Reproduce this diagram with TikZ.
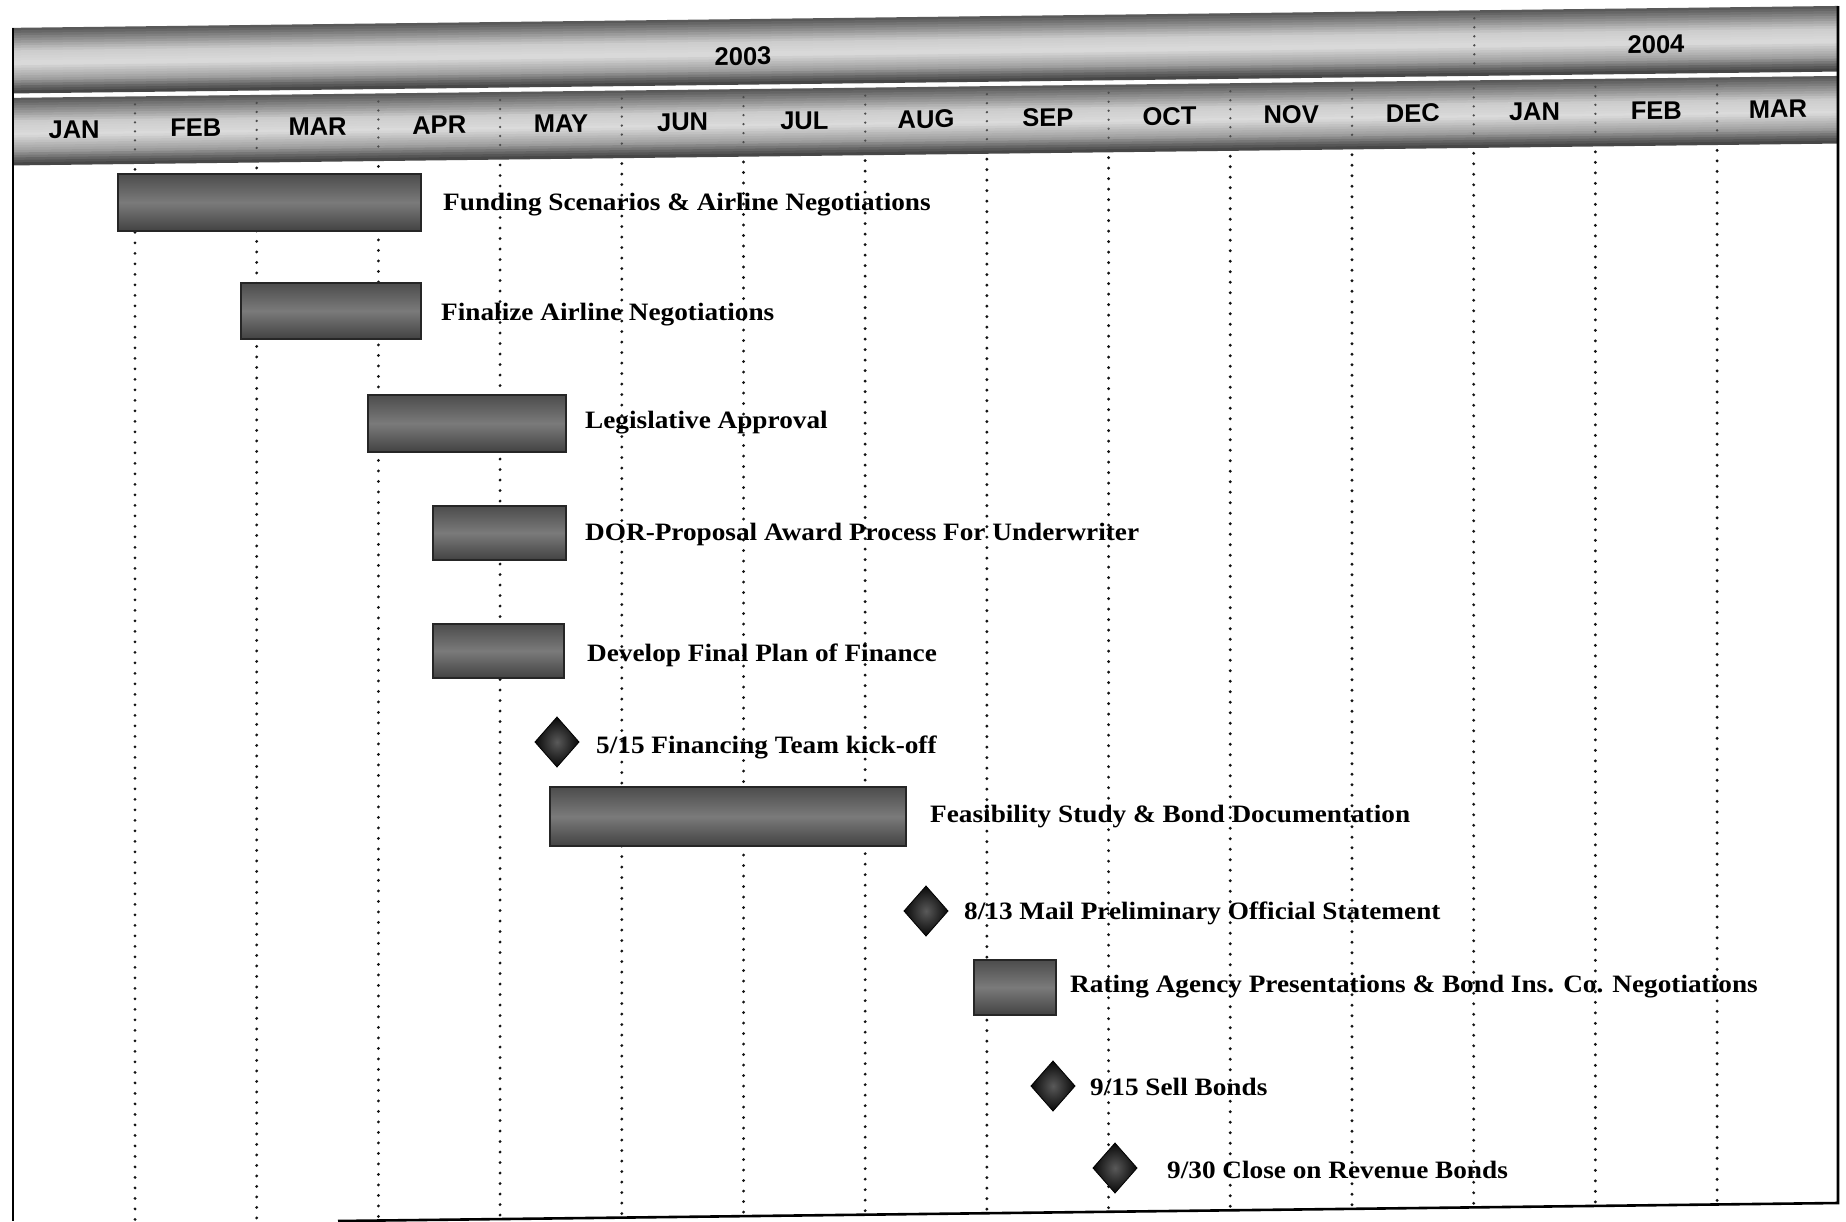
\documentclass[tikz,border=0pt]{standalone}
\usepackage{fontspec}
\newfontfamily\lblfont[FakeStretch=1.09]{Liberation Serif}
\newfontfamily\hdrfont{Liberation Sans}
\newcommand\mkbar[5]{\node[taskbar, minimum width={#4-#2}, minimum height={#5-#3}] (#1) at ({(#2+#4)/2},{(#3+#5)/2}) {};}
\newcommand\mkstone[3]{\coordinate (#1) at (#2,#3);
  \draw[milestone] (#1) ++(-22,0) -- ++(22,-25) -- ++(22,25) -- ++(-22,25) -- cycle;}
\newcommand\bandstrips[5]{% y0 y1 n x0 x1
  \foreach \i in {0,...,#3}{%
    \pgfmathsetmacro\t{\i/#3}%
    \pgfmathsetmacro\g{\t<0.12 ? 35+15*\t/0.12 : (\t<0.35 ? 50+30*(\t-0.12)/0.23 : (\t<0.55 ? 80+6*(\t-0.35)/0.2 : (\t<0.8 ? 86-24*(\t-0.55)/0.25 : (\t<0.92 ? 62-22*(\t-0.8)/0.12 : 40-12*(\t-0.92)/0.08))))}%
    \pgfmathsetmacro\ya{#1+(#2-#1)*\i/(#3+1)}%
    \pgfmathsetmacro\yb{#1+(#2-#1)*(\i+1)/(#3+1)+0.6}%
    \fill[white!\g!black] (#4,\ya) rectangle (#5,\yb);
  }}
\begin{document}
\begin{tikzpicture}[x=1pt,y=-1pt,
  dots/.style={line width=3.2pt, line cap=round, dash pattern=on 0pt off 10.5pt, draw=black!92},
  hdots/.style={line width=2.6pt, line cap=round, dash pattern=on 0pt off 9pt, draw=black!70},
  taskbar/.style={draw=black!85, line width=1.2pt, top color=black!70, bottom color=black!74, middle color=black!52, rectangle, inner sep=0pt},
  milestone/.style={draw=black, line width=0.8pt, inner color=black!65, outer color=black!97},
  tasklabel/.style={anchor=base west, inner sep=0pt, font=\lblfont\bfseries\fontsize{25}{30}\selectfont},
  monthlabel/.style={anchor=base, inner sep=0pt, font=\hdrfont\bfseries\fontsize{25.5}{30}\selectfont},
]
\useasboundingbox (0,0) rectangle (1846,1221);
\fill[white] (0,0) rectangle (1846,1221);
\clip (0,0) rectangle (1846,1221);

% header (sheared like the scan)
\begin{scope}[cm={1,0.012,0,1,(0,0)}, transform shape]
  \bandstrips{28}{93}{25}{12}{1838}
  \bandstrips{98}{165}{26}{12}{1838}
  \foreach \j in {1,...,14}{
    \pgfmathsetmacro\xx{13.3+121.7*\j}
    \draw[hdots] (\xx,106) -- (\xx,158);
  }
  \draw[hdots] (1474.3,36) -- (1474.3,88);
  \node[monthlabel] (y2003) at (743,74) {2003};
  \node[monthlabel] (y2004) at (1656,73) {2004};
  \foreach \m [count=\k from 0] in {JAN,FEB,MAR,APR,MAY,JUN,JUL,AUG,SEP,OCT,NOV,DEC,JAN,FEB,MAR}{
    \node[monthlabel] (m\k) at ({74.15+121.7*\k},139) {\m};
  }
\end{scope}

% vertical dotted month lines
\foreach \j in {1,...,14}{
  \pgfmathsetmacro\xx{13.3+121.7*\j}
  \draw[dots] (\xx,{171-0.012*\xx}) -- (\xx,{1199+0.012*(1838-\xx)});
}

% frame
\draw[line width=2.6pt] (13,28) -- (13,1221);
\draw[line width=2.6pt] (1838,6) -- (1838,1203) -- (338,1221);

% bars
\mkbar{b1}{118}{174}{421}{231}
\mkbar{b2}{241}{283}{421}{339}
\mkbar{b3}{368}{395}{566}{452}
\mkbar{b4}{433}{506}{566}{560}
\mkbar{b5}{433}{624}{564}{678}
\mkbar{b7}{550}{787}{906}{846}
\mkbar{b9}{974}{960}{1056}{1015}

% milestones
\mkstone{d6}{557}{742}
\mkstone{d8}{926}{911}
\mkstone{d10}{1053}{1086}
\mkstone{d11}{1115}{1168}

% labels
\node[tasklabel] (l1) at (443,210) {Funding Scenarios \& Airline Negotiations};
\node[tasklabel] (l2) at (441,320) {Finalize Airline Negotiations};
\node[tasklabel] (l3) at (585,428) {Legislative Approval};
\node[tasklabel] (l4) at (585,540) {DOR-Proposal Award Process For Underwriter};
\node[tasklabel] (l5) at (587,661) {Develop Final Plan of Finance};
\node[tasklabel] (l6) at (596,753) {5/15 Financing Team kick-off};
\node[tasklabel] (l7) at (930,822) {Feasibility Study \& Bond Documentation};
\node[tasklabel] (l8) at (964,919) {8/13 Mail Preliminary Official Statement};
\node[tasklabel] (l9) at (1070,992) {Rating Agency Presentations \& Bond Ins. Co. Negotiations};
\node[tasklabel] (l10) at (1090,1095) {9/15 Sell Bonds};
\node[tasklabel] (l11) at (1167,1178) {9/30 Close on Revenue Bonds};
\end{tikzpicture}
\end{document}
